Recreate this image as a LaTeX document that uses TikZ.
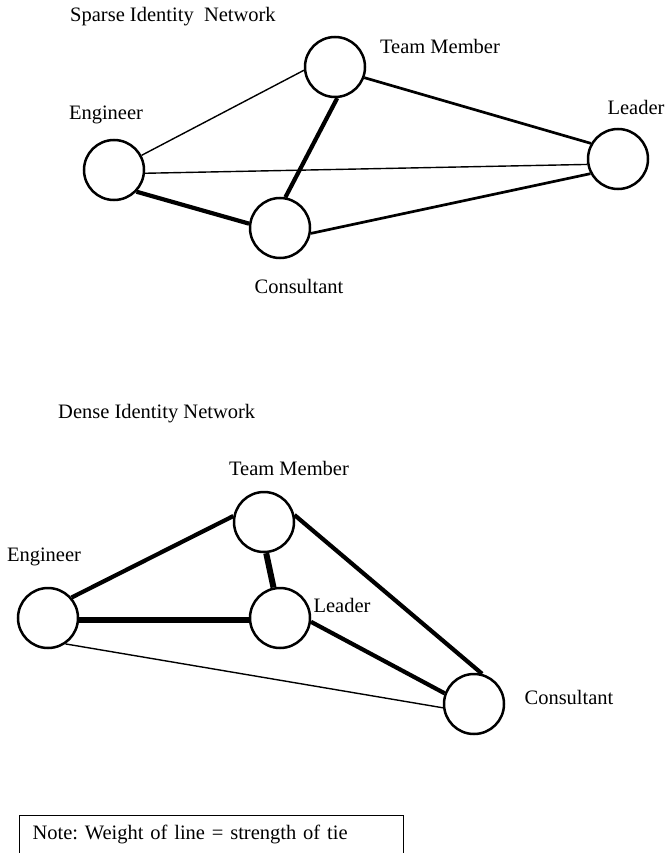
\documentclass[tikz,border=0pt]{standalone}
\usepackage{fontspec}
\setmainfont{Liberation Serif}
\begin{document}
\frenchspacing
\begin{tikzpicture}[x=1pt,y=-1pt,
  actor/.style={circle,draw,line width=2.5pt,minimum size=60pt,inner sep=0pt,fill=white},
  lbl/.style={font=\fontsize{20.5}{24}\selectfont,inner sep=0pt},
  thin tie/.style={line width=1.4pt},
  mid tie/.style={line width=2.7pt},
  thick tie/.style={line width=4.2pt},
  heavy tie/.style={line width=6pt}]
\useasboundingbox (0,0) rectangle (665,853);
\fill[white] (0,0) rectangle (665,853);
% ---- Sparse network ----
\node[lbl,anchor=west] (t1) at (70,17) {Sparse Identity\ \ Network};
\node[actor] (sT) at (335,67) {};
\node[actor] (sE) at (114,170) {};
\node[actor] (sC) at (280,228) {};
\node[actor] (sL) at (618,159) {};
\node[lbl] (sTl) at (440,46) {Team Member};
\node[lbl] (sEl) at (106,115) {Engineer};
\node[lbl] (sLl) at (636,107) {Leader};
\node[lbl] (sCl) at (299,286) {Consultant};
\draw[thin tie] (sE.28) -- (sT.186);
\draw[thin tie] (sE.-6) -- (sL.190);
\draw[thick tie] (sE.-44) -- (sC.172);
\draw[thick tie] (sT.-86) -- (sC.80);
\draw[mid tie] (sT.-20) -- (sL.150);
\draw[mid tie] (sC.-10) -- (sL.208);
% ---- Dense network ----
\node[lbl,anchor=west] (t2) at (58,414) {Dense Identity Network};
\node[actor] (dT) at (264,522) {};
\node[actor] (dE) at (48,618) {};
\node[actor] (dL) at (280,618) {};
\node[actor] (dC) at (474,704) {};
\node[lbl] (dTl) at (289,468) {Team Member};
\node[lbl] (dEl) at (44,557) {Engineer};
\node[lbl] (dLl) at (342,605) {Leader};
\node[lbl] (dCl) at (569,697) {Consultant};
\draw[thick tie] (dE.41) -- (dT.169);
\draw[heavy tie] (dE.-3) -- (dL.183);
\draw[thin tie] (dE.-56) -- (dC.187);
\draw[heavy tie] (dT.-86) -- (dL.102);
\draw[thick tie] (dT.13) -- (dC.75);
\draw[thick tie] (dL.-7) -- (dC.160);
% ---- Note ----
\node[lbl,draw,line width=1pt,anchor=south west,minimum width=384pt,minimum height=38pt,
  inner xsep=13pt,text width=358pt,align=left] (note) at (19,854) {Note: Weight of line = strength of tie};
\end{tikzpicture}
\end{document}
